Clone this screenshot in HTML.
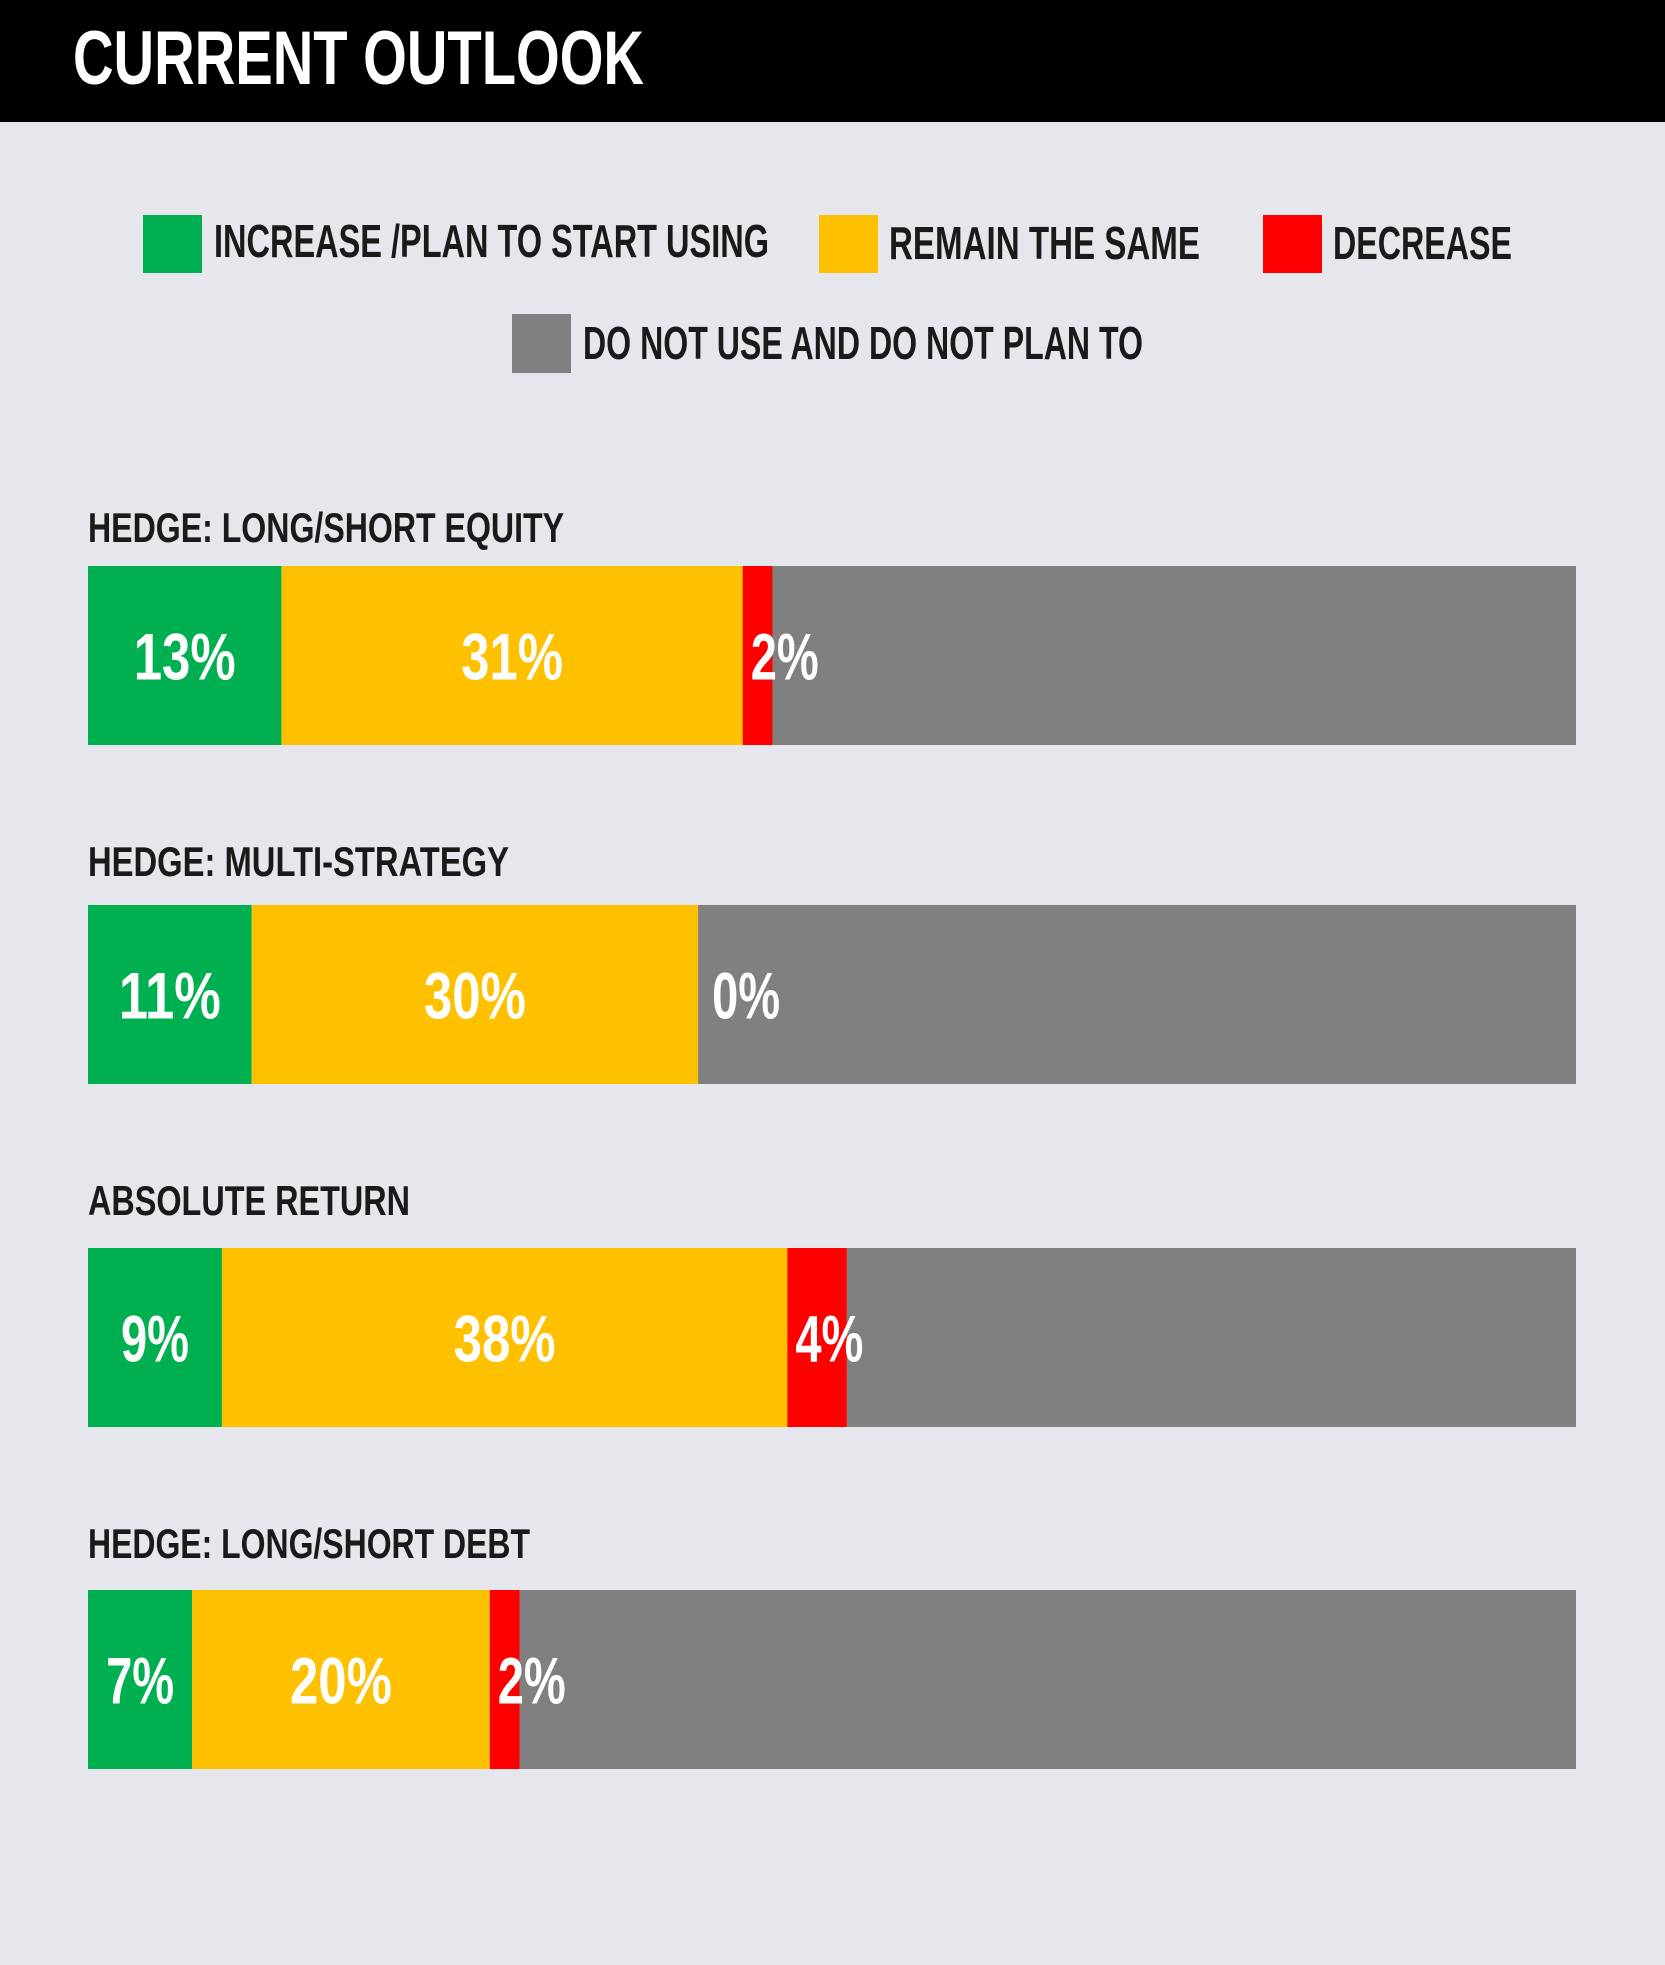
<!DOCTYPE html>
<html><head><meta charset="utf-8"><style>
html,body{margin:0;padding:0;background:#e6e7ec;}
svg{display:block}
text{font-family:"Liberation Sans Narrow","Liberation Sans",sans-serif;font-weight:bold;}
</style></head><body>
<svg id="chart" width="1665" height="1965" viewBox="0 0 1665 1965" xmlns="http://www.w3.org/2000/svg">
<rect x="0" y="0" width="1665" height="1965" fill="#e6e7ec"/>
<rect x="0" y="0" width="1665" height="122" fill="#000"/>
<text x="73" y="84" font-size="76" fill="#fff" textLength="571" lengthAdjust="spacingAndGlyphs">CURRENT OUTLOOK</text>
<g>
<rect x="143" y="215" width="59" height="58" fill="#00b050"/>
<text x="214" y="257" font-size="46" fill="#1a1a1a" textLength="555" lengthAdjust="spacingAndGlyphs">INCREASE /PLAN TO START USING</text>
<rect x="819" y="215" width="59" height="58" fill="#ffc000"/>
<text x="889" y="259" font-size="46" fill="#1a1a1a" textLength="311" lengthAdjust="spacingAndGlyphs">REMAIN THE SAME</text>
<rect x="1263" y="215" width="59" height="58" fill="#ff0000"/>
<text x="1333" y="259" font-size="46" fill="#1a1a1a" textLength="179" lengthAdjust="spacingAndGlyphs">DECREASE</text>
<rect x="512" y="314" width="59" height="59" fill="#808080"/>
<text x="583" y="359" font-size="46" fill="#1a1a1a" textLength="560" lengthAdjust="spacingAndGlyphs">DO NOT USE AND DO NOT PLAN TO</text>
</g>
<g id="bars"></g>
</svg>
<script>
const categories = ["HEDGE: LONG/SHORT EQUITY","HEDGE: MULTI-STRATEGY","ABSOLUTE RETURN","HEDGE: LONG/SHORT DEBT"];
const increaseVals = [13, 11, 9, 7];
const sameVals = [31, 30, 38, 20];
const decreaseVals = [2, 0, 4, 2];

const ns = "http://www.w3.org/2000/svg";
const g = document.getElementById("bars");
const X0 = 88, W = 1488;
const barTops = [566, 905, 1248, 1590];
const labelYs = [542, 876, 1215, 1558];
const labelWidths = [476, 421, 322, 442];
const BH = 179;
function xs(v){ return X0 + v / 100 * W; }
function mk(tag, attrs){ const e = document.createElementNS(ns, tag); for (const k in attrs) e.setAttribute(k, attrs[k]); g.appendChild(e); return e; }
function tl(s){ return s.length * 34; }

categories.forEach((cat, i) => {
  const top = barTops[i];
  const t = mk("text", {x: X0, y: labelYs[i], "font-size": 42, fill: "#1a1a1a", textLength: labelWidths[i], lengthAdjust: "spacingAndGlyphs"});
  
  
  t.textContent = cat;

  const a = increaseVals[i], b = sameVals[i], c = decreaseVals[i];
  const segs = [[0, a, "#00b050", "bar-increase"], [a, a + b, "#ffc000", "bar-same"], [a + b, a + b + c, "#ff0000", "bar-decrease"], [a + b + c, 100, "#808080", "bar-not-use"]];
  segs.forEach(s => {
    if (s[1] <= s[0]) return;
    const r = mk("rect", {x: xs(s[0]), y: top, width: xs(s[1]) - xs(s[0]), height: BH, fill: s[2]});
    
    
  });
  const cy = top + BH / 2 + 24;
  const s1 = a + "%", s2 = b + "%", s3 = c + "%";
  const l1 = mk("text", {x: (xs(0) + xs(a)) / 2, y: cy, "font-size": 66, fill: "#fff", "text-anchor": "middle", textLength: tl(s1), lengthAdjust: "spacingAndGlyphs"});
  
  
  l1.textContent = s1;
  const l2 = mk("text", {x: (xs(a) + xs(a + b)) / 2, y: cy, "font-size": 66, fill: "#fff", "text-anchor": "middle", textLength: tl(s2), lengthAdjust: "spacingAndGlyphs"});
  
  
  l2.textContent = s2;
  const l3 = mk("text", {x: xs(a + b) + (c > 0 ? 8 : 14), y: cy, "font-size": 66, fill: "#fff", textLength: tl(s3), lengthAdjust: "spacingAndGlyphs"});
  
  
  l3.textContent = s3;
});
</script>
</body></html>
